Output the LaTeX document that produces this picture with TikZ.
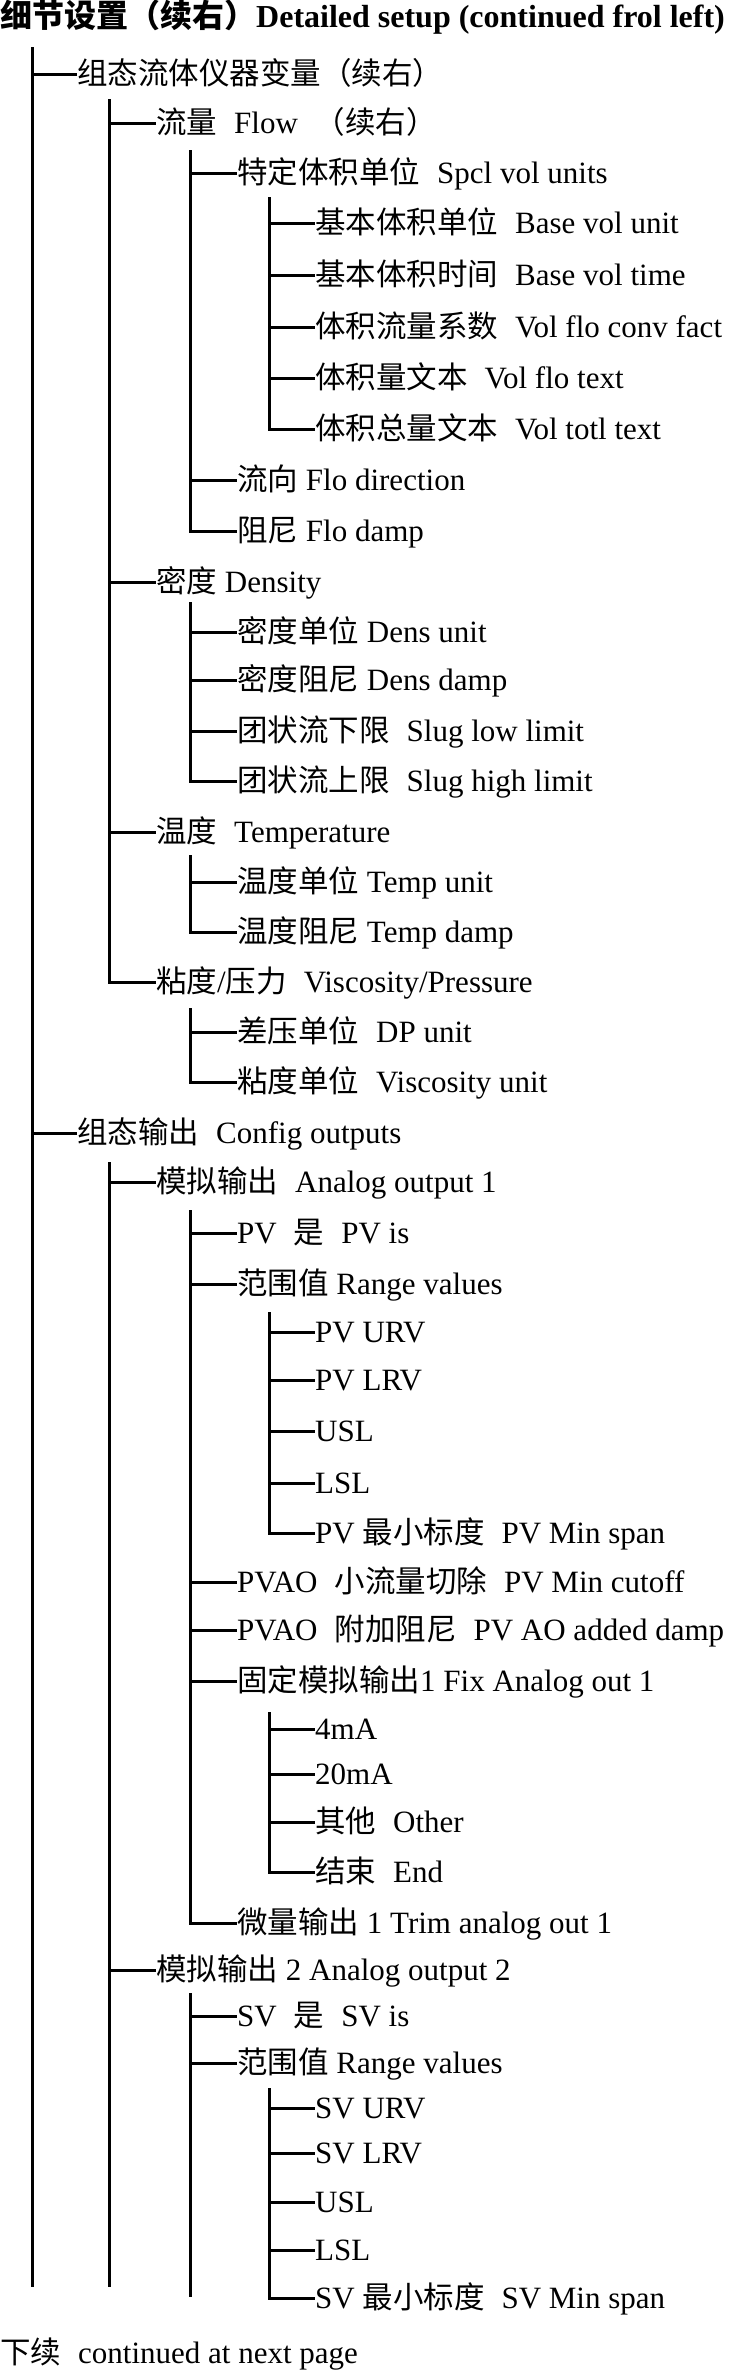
\documentclass[tikz,border=0pt]{standalone}
\usepackage{fontspec}
\setmainfont{Liberation Serif}
\newfontfamily\cjkf{Noto Sans CJK SC}
\newcommand\zh[1]{{\cjkf\fontsize{30.5}{36}\selectfont #1}}
\newcommand\zhb[1]{{\cjkf\bfseries\fontsize{32}{38}\selectfont #1}}
\newcommand\gp{\hspace{17pt}}
\tikzset{
  lab/.style={anchor=west, inner sep=0pt, text height=24pt, text depth=4pt, font=\fontsize{31}{37}\selectfont},
  tree/.style={line width=3pt, black},
}
\begin{document}
\begin{tikzpicture}[x=1pt,y=-1pt]
\useasboundingbox (0,0) rectangle (740,2370);
\fill[white] (0,0) rectangle (740,2370);

% title
\node[anchor=base west, inner sep=0pt, font=\bfseries\fontsize{32}{38}\selectfont] (title) at (0,27) {\zhb{细节设置（续右）}Detailed setup (continued frol left)};

% level 1
\node[lab] (cfv) at (77,74) {\zh{组态流体仪器变量（续右）}};
\node[lab] (cout) at (77,1133) {\zh{组态输出}\gp Config outputs};

% level 2
\node[lab] (flow) at (156,123) {\zh{流量}\gp Flow\gp\zh{（续右）}};
\node[lab] (dens) at (156,582) {\zh{密度} Density};
\node[lab] (temp) at (156,832) {\zh{温度}\gp Temperature};
\node[lab] (visc) at (156,982) {\zh{粘度}/\zh{压力}\gp Viscosity/Pressure};
\node[lab] (ao1) at (156,1182) {\zh{模拟输出}\gp Analog output 1};
\node[lab] (ao2) at (156,1970) {\zh{模拟输出} 2 Analog output 2};

% level 3
\node[lab] (spcl) at (237,173) {\zh{特定体积单位}\gp Spcl vol units};
\node[lab] (flodir) at (237,480) {\zh{流向} Flo direction};
\node[lab] (flodamp) at (237,531) {\zh{阻尼} Flo damp};
\node[lab] (densu) at (237,632) {\zh{密度单位} Dens unit};
\node[lab] (densd) at (237,680) {\zh{密度阻尼} Dens damp};
\node[lab] (slugl) at (237,731) {\zh{团状流下限}\gp Slug low limit};
\node[lab] (slugh) at (237,781) {\zh{团状流上限}\gp Slug high limit};
\node[lab] (tempu) at (237,882) {\zh{温度单位} Temp unit};
\node[lab] (tempd) at (237,932) {\zh{温度阻尼} Temp damp};
\node[lab] (dpu) at (237,1032) {\zh{差压单位}\gp DP unit};
\node[lab] (viscu) at (237,1082) {\zh{粘度单位}\gp Viscosity unit};
\node[lab] (pvis) at (237,1233) {PV\gp\zh{是}\gp PV is};
\node[lab] (rng1) at (237,1284) {\zh{范围值} Range values};
\node[lab] (cut) at (237,1582) {PVAO\gp\zh{小流量切除}\gp PV Min cutoff};
\node[lab] (adamp) at (237,1630) {PVAO\gp\zh{附加阻尼}\gp PV AO added damp};
\node[lab] (fix) at (237,1681) {\zh{固定模拟输出}1 Fix Analog out 1};
\node[lab] (trim) at (237,1923) {\zh{微量输出} 1 Trim analog out 1};
\node[lab] (svis) at (237,2016) {SV\gp\zh{是}\gp SV is};
\node[lab] (rng2) at (237,2063) {\zh{范围值} Range values};

% level 4
\node[lab] (bvu) at (315,223) {\zh{基本体积单位}\gp Base vol unit};
\node[lab] (bvt) at (315,275) {\zh{基本体积时间}\gp Base vol time};
\node[lab] (vfc) at (315,327) {\zh{体积流量系数}\gp Vol flo conv fact};
\node[lab] (vft) at (315,378) {\zh{体积量文本}\gp Vol flo text};
\node[lab] (vtt) at (315,429) {\zh{体积总量文本}\gp Vol totl text};
\node[lab] (urv1) at (315,1332) {PV URV};
\node[lab] (lrv1) at (315,1380) {PV LRV};
\node[lab] (usl1) at (315,1431) {USL};
\node[lab] (lsl1) at (315,1483) {LSL};
\node[lab] (span1) at (315,1533) {PV \zh{最小标度}\gp PV Min span};
\node[lab] (ma4) at (315,1729) {4mA};
\node[lab] (ma20) at (315,1774) {20mA};
\node[lab] (oth) at (315,1822) {\zh{其他}\gp Other};
\node[lab] (endn) at (315,1872) {\zh{结束}\gp End};
\node[lab] (urv2) at (315,2108) {SV URV};
\node[lab] (lrv2) at (315,2153) {SV LRV};
\node[lab] (usl2) at (315,2202) {USL};
\node[lab] (lsl2) at (315,2250) {LSL};
\node[lab] (span2) at (315,2298) {SV \zh{最小标度}\gp SV Min span};

% bottom note
\node[anchor=base west, inner sep=0pt, font=\fontsize{31}{37}\selectfont] (cont) at (0,2363) {\zh{下续}\gp continued at next page};

% trunk coordinates
\coordinate (r0) at (32,47);   \coordinate (r0e) at (32,2287);
\coordinate (ta) at (109,99);  \coordinate (tb) at (109,1162); \coordinate (tbe) at (109,2287);
\coordinate (tflow) at (190,150); \coordinate (tdens) at (190,602);
\coordinate (ttemp) at (190,855); \coordinate (tvisc) at (190,1008);
\coordinate (tao1) at (190,1210); \coordinate (tao2) at (190,1993); \coordinate (tao2e) at (190,2297);
\coordinate (tspcl) at (269,197); \coordinate (trng1) at (269,1312);
\coordinate (tfix) at (269,1712); \coordinate (trng2) at (269,2088);

% connectors
\foreach \c in {cfv,cout} \draw[tree] (r0) |- (\c.west);
\draw[tree] (r0) -- (r0e);
\foreach \c in {flow,dens,temp,visc} \draw[tree] (ta) |- (\c.west);
\foreach \c in {ao1,ao2} \draw[tree] (tb) |- (\c.west);
\draw[tree] (tb) -- (tbe);
\foreach \c in {spcl,flodir,flodamp} \draw[tree] (tflow) |- (\c.west);
\foreach \c in {densu,densd,slugl,slugh} \draw[tree] (tdens) |- (\c.west);
\foreach \c in {tempu,tempd} \draw[tree] (ttemp) |- (\c.west);
\foreach \c in {dpu,viscu} \draw[tree] (tvisc) |- (\c.west);
\foreach \c in {pvis,rng1,cut,adamp,fix,trim} \draw[tree] (tao1) |- (\c.west);
\foreach \c in {svis,rng2} \draw[tree] (tao2) |- (\c.west);
\draw[tree] (tao2) -- (tao2e);
\foreach \c in {bvu,bvt,vfc,vft,vtt} \draw[tree] (tspcl) |- (\c.west);
\foreach \c in {urv1,lrv1,usl1,lsl1,span1} \draw[tree] (trng1) |- (\c.west);
\foreach \c in {ma4,ma20,oth,endn} \draw[tree] (tfix) |- (\c.west);
\foreach \c in {urv2,lrv2,usl2,lsl2,span2} \draw[tree] (trng2) |- (\c.west);
\end{tikzpicture}
\end{document}
